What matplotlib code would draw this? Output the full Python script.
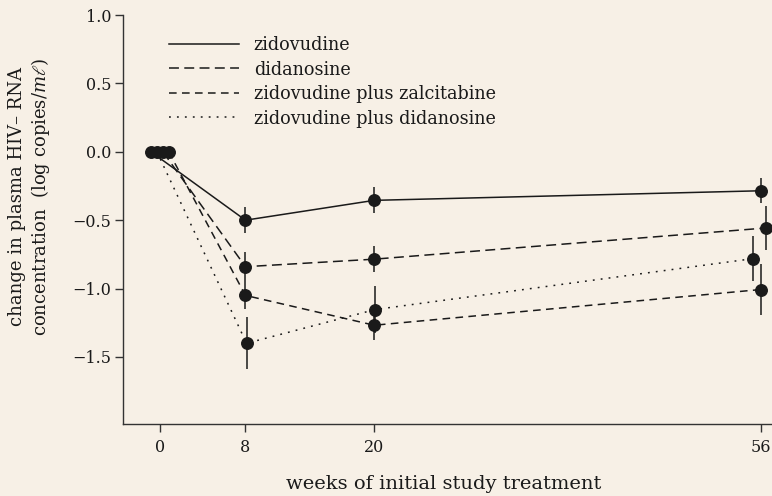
import matplotlib
matplotlib.use("Agg")
import matplotlib.pyplot as plt
from matplotlib.lines import Line2D

plt.rcParams['font.family'] = ['DejaVu Serif']
plt.rcParams['mathtext.fontset'] = 'dejavuserif'

series_names = ["zidovudine", "didanosine", "zidovudine plus zalcitabine", "zidovudine plus didanosine"]
weeks = {
    "zidovudine": [-0.8, 8.0, 20.0, 56.0],
    "didanosine": [0.3, 8.0, 20.0, 56.5],
    "zidovudine plus zalcitabine": [0.85, 8.0, 20.0, 56.0],
    "zidovudine plus didanosine": [-0.25, 8.1, 20.1, 55.3],
}
values = {
    "zidovudine": [0.0, -0.50, -0.355, -0.285],
    "didanosine": [0.0, -0.84, -0.785, -0.557],
    "zidovudine plus zalcitabine": [0.0, -1.05, -1.268, -1.007],
    "zidovudine plus didanosine": [0.0, -1.40, -1.153, -0.781],
}
errors = {
    "zidovudine": [0.0, 0.095, 0.095, 0.09],
    "didanosine": [0.0, 0.11, 0.095, 0.16],
    "zidovudine plus zalcitabine": [0.0, 0.10, 0.11, 0.185],
    "zidovudine plus didanosine": [0.0, 0.19, 0.17, 0.165],
}
x_ticks = [0, 8, 20, 56]
y_ticks = [1.0, 0.5, 0.0, -0.5, -1.0, -1.5]
y_tick_labels = ["1.0", "0.5", "0.0", "\u22120.5", "\u22121.0", "\u22121.5"]

ink = '#1a1a1a'
bg = '#f7f0e6'
styles = {
    "zidovudine": '-',
    "didanosine": (0, (6.5, 3.5)),
    "zidovudine plus zalcitabine": (0, (5, 3.5)),
    "zidovudine plus didanosine": (0, (1.2, 4.0)),
}

fig = plt.figure(figsize=(7.72, 4.96), dpi=100, facecolor=bg)
ax = fig.add_axes([123/772, 1-424/496, (772-123)/772, (424-15)/496])
ax.set_facecolor(bg)

for name in series_names:
    ax.errorbar(weeks[name], values[name], yerr=errors[name], color=ink,
                linestyle=styles[name], linewidth=1.1, marker='o', markersize=8.3,
                elinewidth=1.1, capsize=0, zorder=3)

ax.set_xlim(-3.41, 57.06)
ax.set_ylim(-1.99, 1.0)
ax.set_xticks(x_ticks)
ax.set_xticklabels([str(t) for t in x_ticks])
ax.set_yticks(y_ticks)
ax.set_yticklabels(y_tick_labels)
for s in ['top', 'right']:
    ax.spines[s].set_visible(False)
for s in ['left', 'bottom']:
    ax.spines[s].set_color('#333333')
    ax.spines[s].set_linewidth(1.0)
ax.tick_params(axis='both', direction='out', length=5.5, width=1.0, color='#333333',
               labelsize=11.5, labelcolor=ink)
ax.tick_params(axis='x', pad=5)
ax.tick_params(axis='y', pad=3)

handles = [Line2D([], [], color=ink, linestyle=styles[name], linewidth=1.1)
           for name in series_names]
leg = fig.legend(handles, series_names, loc='upper left',
                 bbox_to_anchor=(169/772, 1-36/496), bbox_transform=fig.transFigure,
                 frameon=False, fontsize=12.7, handlelength=3.95, handletextpad=0.85,
                 labelspacing=0.37, borderpad=0, borderaxespad=0)
for t in leg.get_texts():
    t.set_color(ink)

fig.text(444/772, 1-484/496, "weeks of initial study treatment", ha='center', va='center',
         fontsize=14, color=ink)
fig.text(30/772, 1-197/496, "change in plasma HIV\u2013 RNA\nconcentration  (log copies/$m\\ell$)",
         rotation=90, ha='center', va='center', multialignment='center',
         fontsize=13, color=ink, linespacing=1.15)

fig.savefig("out.png", dpi=100, facecolor=bg)
